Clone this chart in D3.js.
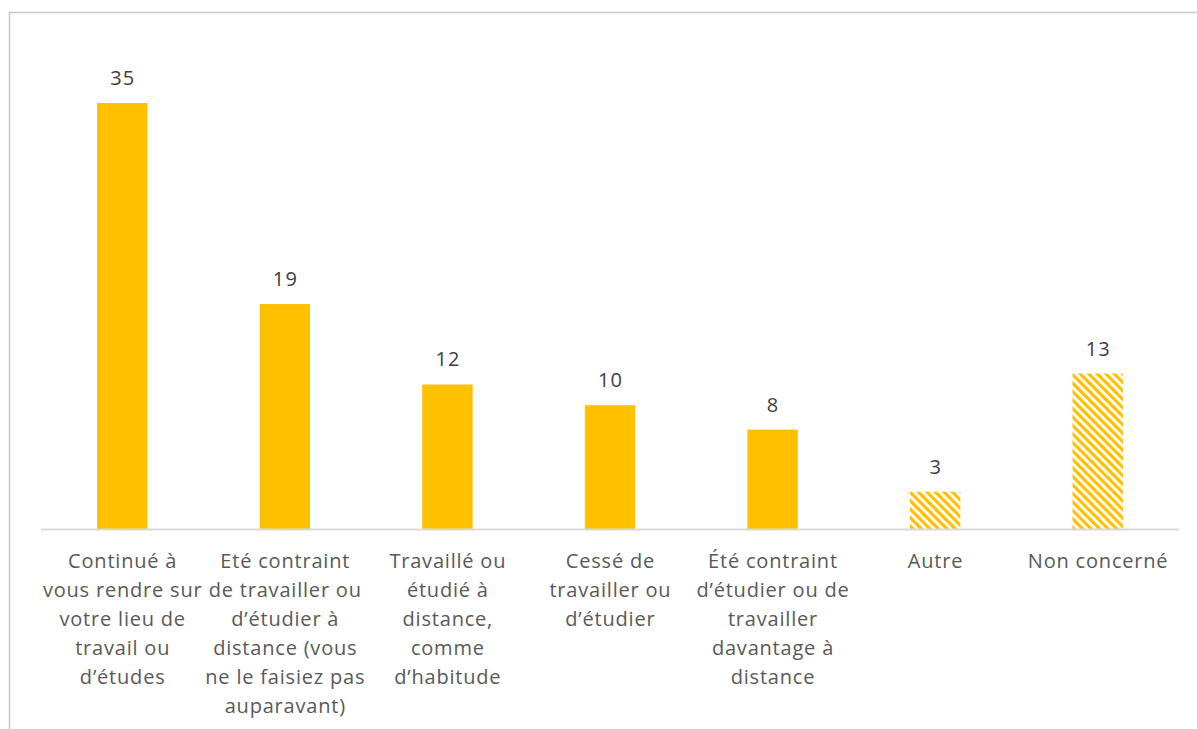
<!DOCTYPE html>
<html>
<head>
<meta charset="utf-8">
<script src="https://d3js.org/d3.v7.min.js"></script>
<style>
  body { margin: 0; background: #fff; }
  .cat { font-family: "Open Sans", sans-serif; font-size: 20px; letter-spacing: 0.8px; fill: #595959; }
  .val { font-family: "Open Sans", sans-serif; font-size: 20px; letter-spacing: 1.2px; fill: #404040; }
</style>
</head>
<body>
<svg id="chart" width="1197" height="729"></svg>
<script>
// data (heights, labels shown rounded)
const categories = [
  ["Continué à", "vous rendre sur", "votre lieu de", "travail ou", "d’études"],
  ["Eté contraint", "de travailler ou", "d’étudier à", "distance (vous", "ne le faisiez pas", "auparavant)"],
  ["Travaillé ou", "étudié à", "distance,", "comme", "d’habitude"],
  ["Cessé de", "travailler ou", "d’étudier"],
  ["Été contraint", "d’étudier ou de", "travailler", "davantage à", "distance"],
  ["Autre"],
  ["Non concerné"]
];
const values = [35, 18.5, 11.9, 10.2, 8.2, 3.1, 12.8];
const hatched = [false, false, false, false, false, true, true];

const svg = d3.select("svg#chart");
const left = 41, right = 1179, baseline = 529.5;
const yellow = "#ffc000";

// hatch pattern for "Autre" / "Non concerné"
const pat = svg.append("defs").append("pattern")
    .attr("id", "hatch")
    .attr("patternUnits", "userSpaceOnUse")
    .attr("width", 6).attr("height", 6)
    .attr("patternTransform", "rotate(-45)");
pat.append("rect").attr("width", 6).attr("height", 6).attr("fill", "#fff");
pat.append("rect").attr("width", 3.2).attr("height", 6).attr("fill", yellow);

// outer frame
svg.append("rect")
    .attr("x", 9.5).attr("y", 12.5)
    .attr("width", 1300).attr("height", 800)
    .attr("fill", "none").attr("stroke", "#c8c8c8").attr("stroke-width", 1.5);

const x = d3.scaleBand()
    .domain(d3.range(values.length))
    .range([left, right])
    .paddingInner(0.69)
    .paddingOuter(0.345);

const y = d3.scaleLinear().domain([0, 35]).range([baseline, 103]);

svg.selectAll("rect.bar").data(values)
  .join("rect")
    .attr("class", "bar")
    .attr("x", (d, i) => x(i))
    .attr("width", x.bandwidth())
    .attr("y", d => y(d))
    .attr("height", d => baseline - y(d))
    .attr("fill", (d, i) => hatched[i] ? "url(#hatch)" : yellow);

// axis line
svg.append("line")
    .attr("x1", left).attr("x2", right)
    .attr("y1", baseline).attr("y2", baseline)
    .attr("stroke", "#d9d9d9").attr("stroke-width", 2);

// value labels
svg.selectAll("text.val").data(values)
  .join("text")
    .attr("class", "val")
    .attr("text-anchor", "middle")
    .attr("x", (d, i) => x(i) + x.bandwidth() / 2 + 0.6)
    .attr("y", d => y(d) - 18)
    .text(d => Math.round(d));

// category labels
const cats = svg.selectAll("text.cat").data(categories)
  .join("text")
    .attr("class", "cat")
    .attr("text-anchor", "middle")
    .attr("transform", (d, i) => `translate(${x(i) + x.bandwidth() / 2 + 0.4},568)`);
cats.selectAll("tspan").data(d => d)
  .join("tspan")
    .attr("x", 0)
    .attr("y", (d, j) => j * 29)
    .text(d => d);
</script>
</body>
</html>
